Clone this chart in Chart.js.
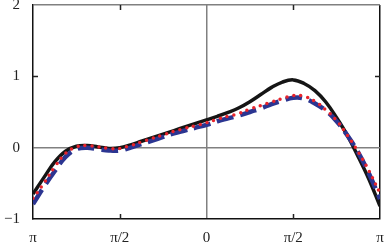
<!DOCTYPE html>
<html>
<head>
<meta charset="utf-8">
<script src="https://cdn.jsdelivr.net/npm/chart.js@4"></script>
<style>
  html, body { margin: 0; padding: 0; background: #fff; }
  #wrap { width: 384px; height: 249px; }
</style>
</head>
<body>
<div id="wrap"><canvas id="myChart"></canvas></div>
<script>
// x positions: multiples of pi/16 from -pi to pi
var steps = [-16,-15,-14,-13,-12,-11,-10,-9,-8,-7,-6,-5,-4,-3,-2,-1,0,1,2,3,4,5,6,7,8,9,10,11,12,13,14,15,16];
var xs = steps.map(function (k) { return k * Math.PI / 16 });

var blackVals = [-0.65,-0.42,-0.2,-0.05,0.02,0.03,0.01,-0.01,0.0,0.04,0.09,0.14,0.19,0.24,0.29,0.34,0.39,0.44,0.495,0.56,0.645,0.745,0.845,0.92,0.95,0.9,0.8,0.64,0.42,0.17,-0.13,-0.45,-0.82];
var redVals   = [-0.71,-0.5,-0.27,-0.08,0.01,0.03,0.01,-0.01,-0.01,0.03,0.08,0.13,0.18,0.23,0.27,0.31,0.35,0.4,0.44,0.48,0.54,0.59,0.64,0.69,0.73,0.72,0.65,0.53,0.38,0.17,-0.06,-0.33,-0.64];
var blueVals  = [-0.79,-0.55,-0.33,-0.13,-0.02,0.0,-0.02,-0.04,-0.04,0.0,0.05,0.1,0.15,0.2,0.24,0.28,0.32,0.37,0.41,0.45,0.5,0.55,0.61,0.66,0.7,0.69,0.62,0.52,0.37,0.17,-0.07,-0.37,-0.72];

var xTicks = [-Math.PI, -Math.PI / 2, 0, Math.PI / 2, Math.PI];
var xTickLabels = ['π', 'π/2', '0', 'π/2', 'π'];
var yTicks = [-1, 0, 1, 2];
var yTickLabels = ['−1', '0', '1', '2'];

function pts(vals) {
  return vals.map(function (v, i) { return { x: xs[i], y: v } });
}

// small inward tick marks at ±pi/2 and y=1
var innerTicks = {
  id: 'innerTicks',
  afterDraw: function (chart) {
    var c = chart.ctx, a = chart.chartArea;
    var sx = chart.scales.x, sy = chart.scales.y;
    c.save();
    c.strokeStyle = '#222';
    c.lineWidth = 1.5;
    c.beginPath();
    [-Math.PI / 2, Math.PI / 2].forEach(function (v) {
      var px = Math.round(sx.getPixelForValue(v)) + 0.5;
      c.moveTo(px, a.bottom); c.lineTo(px, a.bottom - 5);
      c.moveTo(px, a.top); c.lineTo(px, a.top + 5);
    });
    var py = Math.round(sy.getPixelForValue(1)) + 0.5;
    c.moveTo(a.left, py); c.lineTo(a.left + 5, py);
    c.moveTo(a.right, py); c.lineTo(a.right - 5, py);
    c.stroke();
    c.restore();
  }
};

document.addEventListener('DOMContentLoaded', function () {
  var ctx = document.getElementById('myChart').getContext('2d');
  new Chart(ctx, {
    type: 'line',
    data: {
      datasets: [{
        data: pts(redVals),
        borderColor: '#e8242b',
        borderWidth: 3.5,
        borderDash: [0, 7],
        borderCapStyle: 'round',
        pointRadius: 0,
        tension: 0.4,
        fill: false
      }, {
        data: pts(blueVals),
        borderColor: '#2b3591',
        borderWidth: 4.5,
        borderDash: [17, 7],
        pointRadius: 0,
        tension: 0.4,
        fill: false
      }, {
        data: pts(blackVals),
        borderColor: '#151515',
        borderWidth: 3.5,
        pointRadius: 0,
        tension: 0.4,
        fill: false
      }]
    },
    options: {
      responsive: true,
      maintainAspectRatio: false,
      animation: false,
      layout: { padding: { top: 5, right: 4, left: 0, bottom: 0 } },
      plugins: { legend: { display: false }, tooltip: { enabled: false } },
      scales: {
        x: {
          type: 'linear',
          min: -Math.PI,
          max: Math.PI,
          afterBuildTicks: function (s) { s.ticks = xTicks.map(function (v) { return { value: v } }) },
          afterFit: function (s) {
            s.height = 30;
            s.paddingLeft = 0;
            s.paddingRight = 0;
          },
          border: { color: '#111', width: 1.5 },
          grid: {
            drawTicks: false,
            lineWidth: 1.5,
            color: function (c) {
              if (c.tick && c.tick.value === 0) return '#808080';
              if (c.tick && c.tick.value === Math.PI) return '#111';
              return 'rgba(0,0,0,0)';
            }
          },
          ticks: {
            padding: 10,
            maxRotation: 0,
            color: '#222',
            font: { family: 'Liberation Serif', size: 15 },
            callback: function (v, i) { return xTickLabels[i] }
          }
        },
        y: {
          min: -1,
          max: 2,
          afterBuildTicks: function (s) { s.ticks = yTicks.map(function (v) { return { value: v } }) },
          afterFit: function (s) {
            s.width = 33;
            s.paddingTop = 0;
            s.paddingBottom = 0;
          },
          border: { color: '#111', width: 1.5 },
          grid: {
            drawTicks: false,
            lineWidth: 1.5,
            color: function (c) {
              if (c.tick && (c.tick.value === 0 || c.tick.value === 2)) return '#808080';
              return 'rgba(0,0,0,0)';
            }
          },
          ticks: {
            padding: 13,
            color: '#222',
            font: { family: 'Liberation Serif', size: 15 },
            callback: function (v, i) { return yTickLabels[i] }
          }
        }
      }
    },
    plugins: [innerTicks]
  });
});
</script>
</body>
</html>
